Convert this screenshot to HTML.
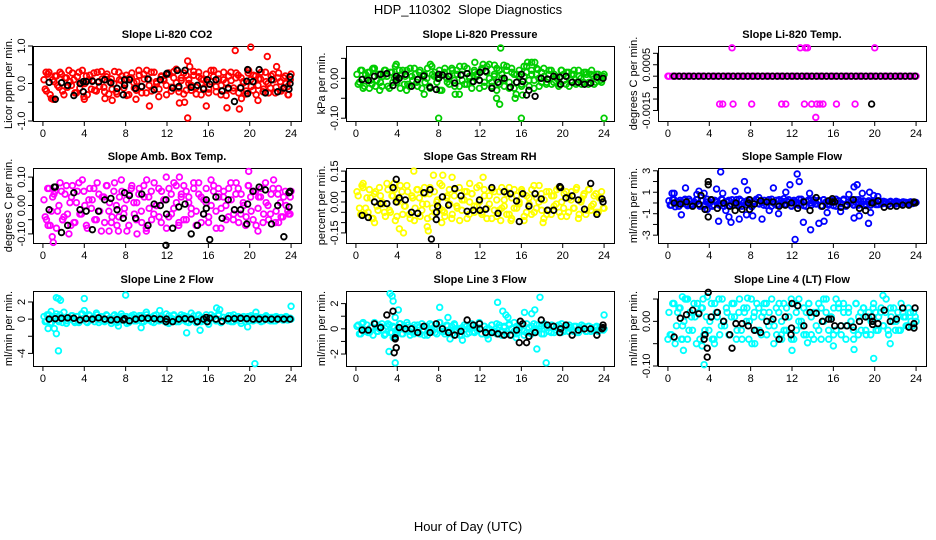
<!DOCTYPE html>
<html><head><meta charset="utf-8"><style>
html,body{margin:0;padding:0;background:#fff}
svg{display:block;font-family:"Liberation Sans",sans-serif}
</style></head><body>
<svg id="chart" width="936" height="540" viewBox="0 0 936 540" xmlns="http://www.w3.org/2000/svg">
<rect x="0" y="0" width="936" height="540" fill="#fff"/>
<text x="468" y="14" font-size="13" text-anchor="middle">HDP_110302&#160; Slope Diagnostics</text>
<text x="468" y="531" font-size="13" text-anchor="middle">Hour of Day (UTC)</text>
</svg>
<script>
const xTicks=[0,4,8,12,16,20,24];
const titles=["Slope Li-820 CO2","Slope Li-820 Pressure","Slope Li-820 Temp.","Slope Amb. Box Temp.","Slope Gas Stream RH","Slope Sample Flow","Slope Line 2 Flow","Slope Line 3 Flow","Slope Line 4 (LT) Flow"];
const yTitles=["Licor ppm per min.","kPa per min.","degrees C per min.","degrees C per min.","percent per min.","ml/min per min.","ml/min per min.","ml/min per min.","ml/min per min."];
const colors=["#ff0000","#00cd00","#ff00ff","#ff00ff","#ffff00","#0000ff","#00ffff","#00ffff","#00ffff"];
const yRanges=[[-1,1],[-0.107,0.081],[-0.00196,0.00132],[-0.132,0.132],[-0.199,0.165],[-3.73,3.26],[-5.47,3.28],[-2.95,3.0],[-0.1,0.068]];
const yTickVals=[[-1,-0.5,0,0.5,1],[-0.1,-0.05,0,0.05],[-0.0015,-0.001,-0.0005,0,0.0005,0.001],[-0.1,-0.05,0,0.05,0.1],[-0.15,-0.1,-0.05,0,0.05,0.1,0.15],[-3,-2,-1,0,1,2,3],[-4,-2,0,2],[-2,-1,0,1,2],[-0.1,-0.05,0,0.05]];
const yTickLabels=[["-1.0","","0.0","","1.0"],["-0.10","","0.00",""],["-0.0015","","","","0.0005",""],["-0.10","","0.00","","0.10"],["-0.15","","","0.00","","","0.15"],["-3","","-1","","1","","3"],["-4","","0","2"],["-2","","0","","2"],["-0.10","","0.00",""]];

// colored main series A (evenly spaced through the day)
const co2Vals=[0.1,-0.2,0.3,-0.4,0.05,0.2,-0.1,0.25,-0.3,0.15,0.35,-0.05,0.1,-0.25,0.3,0.0,-0.35,0.2,0.1,-0.15,0.28,-0.2,0.05,0.32,-0.1,0.18,-0.28,0.12,0.0,-0.22,0.3,0.08,-0.12,0.22,-0.3,0.15,0.02,-0.18,0.35,-0.08,0.25,-0.25,0.1,0.3,-0.15,0.05,-0.35,0.2,0.12,-0.05,0.28,-0.2,0.15,0.38,-0.12,0.08,-0.28,0.22,0.0,-0.18,0.32,-0.1,0.18,-0.3,0.1,0.25,-0.15,0.05,0.35,-0.22,0.12,-0.05,0.3,-0.32,0.2,0.08,-0.12,0.28,-0.25,0.15,0.02,-0.2,0.35,-0.08,0.22,-0.3,0.12,0.3,-0.15,0.05,-0.25,0.2,0.1,-0.1,0.28,-0.2,0.15,0.0,-0.3,0.25];
const presVals=[0.01,-0.01,0.02,-0.02,0.0,0.015,-0.015,0.025,-0.005,0.01,-0.02,0.02,0.005,-0.025,0.015,0.0,-0.01,0.02,0.01,-0.015,0.02,-0.02,0.005,0.025,-0.01,0.015,-0.025,0.01,0.0,-0.02,0.03,0.005,-0.01,0.02,-0.03,0.015,0.0,-0.015,0.025,-0.005,0.02,-0.02,0.01,0.03,-0.015,0.005,-0.025,0.02,0.01,-0.005,0.025,-0.02,0.015,0.035,-0.01,0.005,-0.03,0.02,0.0,-0.02,0.03,-0.01,0.015,-0.025,0.01,0.02,-0.015,0.005,0.03,-0.02,0.01,-0.005,0.025,-0.02,0.015,0.005,-0.01,0.02,-0.015,0.01,0.0,-0.015,0.02,-0.005,0.015,-0.02,0.01,0.02,-0.01,0.005,-0.015,0.015,0.01,-0.01,0.02,-0.015,0.01,0.0,-0.01,0.01];
const tempVals=[0,0,0,0,0,0,0,0,0,0,0,0,0,0,0,0,0,0,0,0,0,0,0,0,0,0,0,0,0,0,0,0,0,0,0,0,0,0,0,0,0,0,0,0,0,0,0,0,0,0,0,0,0,0,0,0,0,0,0,0,0,0,0,0,0,0,0,0,0,0];
const ambVals=[0.02,-0.05,0.06,-0.02,0.04,-0.08,0.0,0.05,-0.04,0.07,-0.1,0.03,-0.06,0.01,0.08,-0.03,0.05,-0.07,0.02,-0.01,0.06,-0.05,0.04,-0.09,0.03,0.07,-0.02,-0.06,0.05,0.0,-0.04,0.09,-0.03,0.02,-0.07,0.06,0.01,-0.05,0.04,-0.02,0.07,-0.08,0.03,0.05,-0.03,0.0,0.06,-0.06,0.02,0.1,-0.04,0.04,-0.01,0.07,-0.07,0.03,-0.05,0.05,0.01,-0.03,0.08,-0.02,0.04,-0.06,0.02,0.06,-0.04,0.0,0.07,-0.08,0.03,-0.01,0.05,-0.05,0.06,0.02,-0.03,0.08,-0.06,0.04,0.0,-0.04,0.07,-0.02,0.05,-0.07,0.03,0.06,-0.03,0.01,-0.05,0.04,0.09,-0.02,0.06,-0.04,0.03,0.0,-0.03,0.05];
const rhVals=[0.05,-0.03,0.08,-0.06,0.02,0.06,-0.08,0.04,-0.02,0.07,0.0,-0.05,0.09,-0.04,0.03,0.06,-0.07,0.01,0.05,-0.02,0.08,-0.06,0.03,-0.09,0.06,0.02,-0.04,0.07,-0.01,0.04,-0.07,0.05,0.0,-0.03,0.08,-0.05,0.02,0.06,-0.08,0.03,-0.02,0.07,-0.04,0.01,0.05,-0.06,0.04,-0.02,0.07,0.0,-0.05,0.06,-0.03,0.03,-0.08,0.05,0.01,-0.04,0.07,-0.02,0.04,-0.06,0.02,0.06,-0.03,0.0,0.05,-0.07,0.03,-0.01,0.06,-0.05,0.02,0.08,-0.04,0.01,-0.06,0.05,0.03,-0.02,0.06,-0.05,0.0,0.04,-0.07,0.02,0.05,-0.03,0.07,-0.06,0.01,0.04,-0.04,0.06,-0.02,0.03,-0.05,0.02,0.05,-0.03];
const sampleVals=[0.2,-0.2,0.3,0.0,-0.3,0.1,0.25,-0.1,0.35,-0.25,0.05,0.3,-0.15,0.2,-0.3,0.1,0.0,0.3,-0.2,0.15,-0.05,0.35,-0.3,0.1,0.25,-0.1,0.0,0.3,-0.25,0.2,0.05,-0.15,0.3,-0.3,0.15,0.35,-0.05,0.2,-0.2,0.1,0.3,-0.3,0.0,0.25,-0.15,0.2,0.4,-0.1,0.3,-0.25,0.1,0.05,-0.2,0.35,0.15,-0.3,0.2,0.0,0.3,-0.1,0.15,-0.25,0.3,0.05,-0.2,0.25,0.1,-0.3,0.2,-0.05,0.35,-0.15,0.1,0.25,-0.2,0.05,0.3,-0.1,0.15,-0.25,0.2,0.0,0.1,-0.15,0.2,-0.1,0.15,0.05,-0.1,0.1,-0.05,0.15,0.0,-0.1,0.1,0.05,-0.05,0.1,0.0,0.05];
const line2Vals=[0.3,-0.2,0.5,-0.4,0.1,0.6,-0.3,0.2,0.8,-0.5,0.0,0.4,-0.2,0.3,-0.4,0.6,0.1,-0.3,0.5,-0.1,0.2,0.7,-0.4,0.3,-0.2,0.5,0.0,-0.5,0.4,0.2,-0.3,0.6,-0.1,0.3,-0.4,0.2,0.5,-0.2,0.1,0.4,-0.3,0.8,-0.1,0.2,-0.4,0.5,0.0,0.3,-0.2,0.6,-0.5,0.1,0.4,-0.3,0.2,0.5,-0.1,0.3,-0.4,0.7,0.0,-0.2,0.4,-0.3,0.2,0.5,-0.6,0.1,0.3,-0.2,0.6,-0.4,0.2,0.0,0.4,-0.3,0.5,-0.1,0.2,-0.5,0.3,0.1,-0.2,0.4,-0.1,0.3,0.0,-0.3,0.2,0.4,-0.1,0.2,-0.2,0.3,0.0,0.2,-0.1,0.3,0.1,0.0];
const line3Vals=[0.2,-0.4,0.4,-0.1,0.3,-0.3,0.1,0.5,-0.2,0.0,0.4,-0.5,0.2,0.3,-0.3,0.1,-0.1,0.4,-0.4,0.2,0.5,-0.2,0.0,0.3,-0.3,0.1,0.4,-0.5,0.2,-0.1,0.3,0.0,-0.4,0.5,0.1,-0.2,0.3,-0.3,0.2,0.4,-0.1,0.0,-0.5,0.3,0.2,-0.3,0.4,-0.2,0.1,0.5,-0.4,0.2,0.0,-0.1,0.3,-0.3,0.4,0.1,-0.5,0.2,-0.2,0.3,0.0,0.5,-0.4,0.1,0.3,-0.2,0.4,-0.3,0.2,-0.1,0.3,0.0,-0.4,0.4,0.1,-0.2,0.3,-0.3,0.2,0.0,0.4,-0.2,0.1,0.3,-0.1,0.2,-0.3,0.1,0.3,0.0,-0.2,0.2,0.1,-0.1,0.2,0.0,0.1,0.0];
const line4Vals=[0.02,-0.03,0.04,-0.01,0.03,-0.04,0.0,0.05,-0.02,0.01,0.04,-0.05,0.02,0.03,-0.03,0.01,-0.02,0.04,-0.04,0.02,0.05,-0.01,0.0,0.03,-0.03,0.01,0.04,-0.04,0.02,-0.02,0.03,0.0,-0.04,0.05,0.01,-0.02,0.03,-0.03,0.02,0.04,-0.01,0.0,-0.05,0.03,0.02,-0.03,0.04,-0.02,0.01,0.05,-0.04,0.02,0.0,-0.01,0.03,-0.03,0.04,0.01,-0.04,0.02,-0.02,0.03,0.0,0.05,-0.04,0.01,0.03,-0.02,0.04,-0.03,0.02,-0.01,0.03,0.0,-0.04,0.04,0.01,-0.02,0.03,-0.03,0.02,0.0,0.04,-0.02,0.01,0.03,-0.01,0.05,-0.03,0.01,0.03,0.0,-0.02,0.04,0.01,-0.01,0.03,0.0,0.02,0.0];

// colored main series B (interleaved readings)
const co2ValsB=[-0.15,0.25,-0.3,0.1,0.2,-0.05,0.3,-0.2,0.15,-0.1,0.05,0.28,-0.25,0.18,-0.12,0.35,0.0,-0.3,0.22,0.08,-0.18,0.3,-0.08,0.12,-0.22,0.25,0.05,-0.15,0.32,-0.28,0.1,0.2,-0.02,-0.32,0.15,0.28,-0.12,0.05,0.22,-0.25,0.12,0.35,-0.05,-0.2,0.3,0.0,-0.15,0.18,0.08,-0.3,0.25,-0.1,0.32,0.02,-0.22,0.15,0.28,-0.18,0.1,-0.05,0.22,-0.28,0.3,0.12,-0.12,0.05,-0.25,0.35,0.18,-0.08,0.25,-0.3,0.1,0.02,-0.15,0.3,-0.2,0.15,0.22,-0.1,0.05,-0.28,0.28,0.1,-0.18,0.2,-0.05,0.12,-0.22,0.3,0.0,-0.12,0.25,-0.25,0.15,0.05,-0.15,0.2,-0.08,0.1];
const presValsB=[-0.015,0.02,-0.025,0.01,0.015,-0.005,0.025,-0.02,0.01,-0.01,0.005,0.02,-0.02,0.015,-0.01,0.03,0.0,-0.025,0.02,0.005,-0.015,0.025,-0.005,0.01,-0.02,0.02,0.005,-0.01,0.025,-0.025,0.01,0.015,0.0,-0.03,0.01,0.025,-0.01,0.005,0.02,-0.02,0.01,0.03,-0.005,-0.015,0.025,0.0,-0.01,0.015,0.005,-0.025,0.02,-0.01,0.03,0.0,-0.02,0.01,0.025,-0.015,0.01,-0.005,0.02,-0.025,0.025,0.01,-0.01,0.005,-0.02,0.03,0.015,-0.005,0.02,-0.025,0.01,0.0,-0.01,0.025,-0.015,0.01,0.02,-0.01,0.005,-0.02,0.02,0.01,-0.015,0.015,-0.005,0.01,-0.015,0.02,0.0,-0.01,0.015,-0.015,0.01,0.005,-0.01,0.01,-0.005,0.005];
const tempValsB=[];
const ambValsB=[-0.04,0.06,-0.07,0.03,0.05,-0.02,0.08,-0.05,0.04,-0.03,0.01,0.07,-0.06,0.05,-0.03,0.09,0.0,-0.08,0.06,0.02,-0.05,0.08,-0.02,0.03,-0.06,0.07,0.01,-0.04,0.08,-0.07,0.03,0.05,-0.01,-0.09,0.04,0.07,-0.03,0.01,0.06,-0.06,0.03,0.09,-0.01,-0.05,0.08,0.0,-0.04,0.05,0.02,-0.08,0.06,-0.03,0.08,0.01,-0.06,0.04,0.07,-0.05,0.03,-0.01,0.06,-0.07,0.08,0.03,-0.03,0.01,-0.06,0.09,0.05,-0.02,0.06,-0.08,0.03,0.0,-0.04,0.08,-0.05,0.04,0.06,-0.03,0.01,-0.07,0.07,0.03,-0.05,0.05,-0.01,0.03,-0.06,0.08,0.0,-0.03,0.06,-0.06,0.04,0.01,-0.04,0.05,-0.02,0.03];
const rhValsB=[0.03,-0.06,0.07,-0.03,-0.05,0.02,-0.08,0.05,-0.04,0.03,-0.01,-0.07,0.06,-0.05,0.03,-0.09,0.0,0.08,-0.06,-0.02,0.05,-0.08,0.02,-0.03,0.06,-0.07,-0.01,0.04,-0.08,0.07,-0.03,-0.05,0.01,0.09,-0.04,-0.07,0.03,-0.01,-0.06,0.06,-0.03,-0.09,0.01,0.05,-0.08,0.0,0.04,-0.05,-0.02,0.08,-0.06,0.03,-0.08,-0.01,0.06,-0.04,-0.07,0.05,-0.03,0.01,-0.06,0.07,-0.08,-0.03,0.03,-0.01,0.06,-0.09,-0.05,0.02,-0.06,0.08,-0.03,0.0,0.04,-0.08,0.05,-0.04,-0.06,0.03,-0.01,0.07,-0.07,-0.03,0.05,-0.05,0.01,-0.03,0.06,-0.08,0.0,0.03,-0.06,0.06,-0.04,-0.01,0.04,-0.05,0.02,-0.03];
const sampleValsB=[-0.2,0.3,-0.35,0.1,0.25,-0.05,0.35,-0.25,0.15,-0.1,0.05,0.3,-0.3,0.2,-0.15,0.35,0.0,-0.3,0.25,0.1,-0.2,0.3,-0.05,0.15,-0.25,0.3,0.05,-0.15,0.35,-0.3,0.1,0.2,0.0,-0.35,0.15,0.3,-0.1,0.05,0.25,-0.25,0.1,0.35,-0.05,-0.2,0.3,0.0,-0.15,0.2,0.1,-0.3,0.25,-0.1,0.35,0.0,-0.25,0.15,0.3,-0.2,0.1,-0.05,0.25,-0.3,0.3,0.1,-0.1,0.05,-0.25,0.35,0.2,-0.05,0.25,-0.3,0.1,0.0,-0.15,0.3,-0.2,0.15,0.2,-0.1,0.05,-0.2,0.2,0.1,-0.15,0.15,-0.05,0.1,-0.15,0.15,0.0,-0.1,0.1,-0.1,0.1,0.05,-0.05,0.1,-0.05,0.05];
const line2ValsB=[-0.3,0.4,-0.5,0.2,0.3,-0.1,0.5,-0.4,0.2,-0.2,0.1,0.4,-0.4,0.3,-0.2,0.6,0.0,-0.4,0.4,0.1,-0.3,0.5,-0.1,0.2,-0.3,0.4,0.1,-0.2,0.5,-0.4,0.2,0.3,0.0,-0.5,0.2,0.4,-0.2,0.1,0.4,-0.3,0.2,0.5,-0.1,-0.3,0.4,0.0,-0.2,0.3,0.1,-0.4,0.4,-0.2,0.5,0.0,-0.3,0.2,0.4,-0.3,0.2,-0.1,0.4,-0.4,0.5,0.2,-0.2,0.1,-0.3,0.5,0.3,-0.1,0.4,-0.4,0.2,0.0,-0.2,0.4,-0.3,0.2,0.3,-0.2,0.1,-0.3,0.3,0.2,-0.2,0.2,-0.1,0.2,-0.2,0.3,0.0,-0.2,0.2,-0.2,0.2,0.1,-0.1,0.2,-0.1,0.1];
const line3ValsB=[0.3,-0.4,0.5,-0.2,-0.3,0.1,-0.5,0.4,-0.2,0.2,-0.1,-0.4,0.4,-0.3,0.2,-0.5,0.0,0.4,-0.4,-0.1,0.3,-0.5,0.1,-0.2,0.3,-0.4,-0.1,0.2,-0.5,0.4,-0.2,-0.3,0.0,0.5,-0.2,-0.4,0.2,-0.1,-0.4,0.3,-0.2,-0.5,0.1,0.3,-0.4,0.0,0.2,-0.3,-0.1,0.4,-0.4,0.2,-0.5,0.0,0.3,-0.2,-0.4,0.3,-0.2,0.1,-0.4,0.4,-0.5,-0.2,0.2,-0.1,0.3,-0.5,-0.3,0.1,-0.4,0.4,-0.2,0.0,0.2,-0.4,0.3,-0.2,-0.3,0.2,-0.1,0.3,-0.3,-0.2,0.2,-0.2,0.1,-0.2,0.2,-0.3,0.0,0.2,-0.2,0.2,-0.2,-0.1,0.1,-0.2,0.1,-0.1];
const line4ValsB=[-0.03,0.04,-0.05,0.02,0.03,-0.01,0.05,-0.04,0.02,-0.02,0.01,0.04,-0.04,0.03,-0.02,0.055,0.0,-0.04,0.04,0.01,-0.03,0.05,-0.01,0.02,-0.03,0.04,0.01,-0.02,0.05,-0.04,0.02,0.03,0.0,-0.05,0.02,0.04,-0.02,0.01,0.04,-0.03,0.02,0.05,-0.01,-0.03,0.04,0.0,-0.02,0.03,0.01,-0.04,0.04,-0.02,0.05,0.0,-0.03,0.02,0.04,-0.03,0.02,-0.01,0.04,-0.04,0.05,0.02,-0.02,0.01,-0.03,0.05,0.03,-0.01,0.04,-0.04,0.02,0.0,-0.02,0.04,-0.03,0.02,0.03,-0.02,0.01,-0.03,0.03,0.02,-0.02,0.02,-0.01,0.02,-0.02,0.03,0.0,-0.02,0.02,-0.02,0.02,0.01,-0.01,0.02,-0.01,0.01];

// colored outliers [hour, value]
const co2Out=[[14,-0.92],[13.7,-0.5],[14,0.6],[14.2,0.45],[18.6,0.88],[20.1,0.97],[21.7,0.72],[22.6,0.45],[19,-0.68],[17.8,-0.65],[15.8,-0.6],[10.3,-0.6],[13.2,-0.52],[1,-0.42],[0.3,0.3],[4,-0.42],[6,-0.4],[6.7,-0.45],[9,-0.42],[19.2,-0.4],[20.8,-0.45],[23.7,-0.3]];
const presOut=[[8,-0.1],[16,-0.1],[24,-0.1],[14,0.076],[13.9,-0.065],[11.5,0.04],[12.3,0.035],[13.4,0.033],[14.3,0.033],[16.6,0.04],[17,0.04],[17.3,0.04],[15.5,-0.04],[15.4,-0.05],[13.6,-0.05],[16.1,-0.042],[9.6,-0.04],[10,-0.04],[7.2,0.035],[3.9,0.035],[1.6,0.023],[6.6,-0.04],[17.6,0.022],[1.3,-0.025],[2.3,-0.03],[4.9,-0.03]];
const tempOut=[[0,0],[6.2,0.00124],[12.8,0.00124],[13.3,0.00124],[13.5,0.00124],[20,0.00124],[5,-0.00122],[5.3,-0.00122],[6.3,-0.00122],[8.1,-0.00122],[11,-0.00122],[11.4,-0.00122],[13.2,-0.00122],[13.9,-0.00122],[14.4,-0.00122],[14.7,-0.00122],[15,-0.00122],[16.3,-0.00122],[18.1,-0.00122],[14.3,-0.0018]];
const ambOut=[[1,-0.13],[0.9,-0.11],[0.5,-0.07],[19.9,0.12],[13.2,0.1],[6.4,-0.09],[7.3,-0.09],[9.1,-0.1],[10,-0.09],[20.8,-0.09],[22.8,-0.06],[23.9,-0.03],[1.9,-0.05],[2.7,-0.07]];
const rhOut=[[5.6,0.15],[7.5,0.13],[8.4,0.13],[9.3,0.12],[12.3,0.12],[6.9,-0.12],[4.2,-0.13],[4.6,-0.15],[8.3,-0.1],[7,-0.14],[1.8,-0.1],[18.1,-0.1],[0.7,0.09],[3.7,0.09],[11,0.09],[14,-0.09],[15,-0.09]];
const sampleOut=[[0.4,0.9],[0.6,0.9],[1.3,-1.1],[1.7,1.4],[3,1.1],[3.5,0.9],[3.8,-0.6],[4.7,1.3],[5.1,2.9],[4.9,-1.7],[5.3,0.9],[5.6,-0.7],[5.9,-1.3],[6.1,-1.8],[6.5,1.1],[6.9,-1.5],[7.4,2.0],[7.7,1.2],[7.6,-1.1],[8.2,-1.2],[9.1,-1.5],[9.8,-0.7],[10.2,1.4],[10.7,-1.0],[11.4,1.0],[11.8,1.7],[12.3,-3.4],[12.5,2.7],[12.7,2.0],[13.1,-1.8],[13.8,-2.5],[13.7,0.9],[14.6,-1.9],[15.1,-1.7],[15.4,-0.9],[16.7,-0.8],[17.5,0.8],[18,1.5],[18.3,1.7],[18,-1.4],[18.5,-1.2],[18.8,0.9],[19.4,-1.9],[19.6,-0.9],[19.5,1.0],[19.9,0.7],[20.3,0.6],[8.8,0.5],[2.8,0.8]];
const line2Out=[[1.3,2.5],[1.5,2.4],[1.7,2.2],[4,2.4],[8,2.8],[1.5,-3.7],[1.3,-1.7],[1.1,-1.1],[0.5,-1.1],[4,1.0],[13.9,-1.6],[15.2,-1.3],[20.5,-5.2],[24,1.5],[16.8,1.3],[17.1,1.1],[11.3,1.0],[9.5,-1.0],[19.8,-0.9],[7.3,-0.8],[20.6,0.8],[0.8,0.9],[0.4,0.5]];
const line3Out=[[3.3,2.8],[3.5,2.6],[3.6,2.2],[4.1,1.5],[3.8,0.9],[3.2,-1.8],[3.8,-2.7],[3.6,-0.7],[8.1,1.7],[8.9,0.9],[10.3,-0.9],[9.1,-0.8],[13.7,2.1],[14.2,1.4],[14.5,1.1],[14.7,0.9],[16.3,1.3],[17,1.2],[17.3,1.5],[17.8,2.5],[17.5,-1.6],[18.4,-2.7],[24,1.1],[15.5,-0.7],[12.8,-0.8],[5.6,-0.4]];
const line4Out=[[1.4,0.055],[1.9,0.05],[3.4,0.05],[7.7,0.052],[20.8,0.058],[19.9,-0.083],[3.5,-0.097],[1.5,-0.065],[12,-0.065],[16,-0.055],[18,-0.063],[21.5,-0.05],[0,-0.04],[1.4,-0.04],[3.3,-0.055],[8.4,-0.05],[11,-0.04],[13.5,-0.048],[4.5,-0.05]];

// black series (evenly spaced 0.6h..23.9h)
const co2Blk=[0.03,-0.42,0.02,-0.05,-0.32,0.0,0.05,0.06,0.04,0.1,0.02,-0.13,-0.3,0.1,-0.13,-0.08,0.12,-0.17,0.1,0.25,-0.12,-0.08,0.35,-0.1,-0.05,-0.15,-0.02,0.1,-0.2,-0.12,-0.48,-0.12,0.06,0.05,0.37,-0.25,0.1,-0.22,-0.12,0.0];
const presBlk=[-0.003,-0.005,0.005,0.01,0.012,-0.018,0.0,0.01,-0.02,-0.003,0.006,-0.023,-0.028,0.008,0.005,-0.012,0.008,0.012,-0.008,-0.005,0.018,-0.025,-0.01,0.0,-0.022,-0.01,-0.008,-0.03,-0.045,0.0,-0.002,0.005,0.003,0.005,-0.01,-0.01,-0.015,-0.012,0.003,0.0];
const tempBlk=[0,0,0,0,0,0,0,0,0,0,0,0,0,0,0,0,0,0,0,0,0,0,0,0,0,0,0,0,0,0,0,0,0,0,0,0,0,0,0,0,0,0,0,0,0,0,0,0,0,0];
const ambBlk=[-0.015,0.065,-0.095,-0.07,0.045,-0.015,-0.02,-0.085,-0.02,0.02,0.025,-0.015,-0.045,0.035,-0.045,0.04,-0.07,0.005,0.0,-0.03,-0.08,-0.005,0.005,-0.1,-0.07,-0.03,-0.12,0.03,-0.045,0.02,-0.015,-0.015,-0.065,0.05,0.065,0.055,-0.065,0.0,-0.11,0.05];
const rhBlk=[-0.065,-0.075,0.0,-0.008,-0.008,0.07,0.02,0.01,-0.05,-0.055,0.045,0.06,-0.085,0.025,-0.015,0.065,0.03,-0.045,-0.04,0.01,-0.035,0.07,-0.055,0.05,0.04,0.005,0.04,-0.02,0.04,0.015,-0.04,-0.04,0.075,0.02,0.03,0.01,-0.035,0.09,-0.06,0.0];
const sampleBlk=[0.0,-0.1,0.1,-0.3,-0.1,-0.6,0.3,-0.5,0.0,-0.3,0.0,-0.6,0.0,-0.1,0.2,0.1,0.1,-0.3,-0.2,0.0,-0.5,0.1,-0.7,0.5,-0.3,0.2,0.1,-0.4,-0.2,0.3,-0.5,-0.7,0.0,0.2,-0.4,-0.3,-0.3,-0.2,-0.2,0.0];
const line2Blk=[0.0,0.05,0.1,0.15,0.1,-0.1,0.05,0.0,0.15,0.0,-0.1,-0.05,-0.1,-0.2,0.0,0.1,0.1,0.05,0.0,0.0,-0.3,0.0,0.05,0.0,-0.3,0.0,0.1,0.0,-0.25,0.05,0.05,0.1,0.05,0.0,0.0,0.0,0.0,0.0,0.0,0.0];
const line3Blk=[-0.1,-0.1,0.4,0.1,1.1,1.4,0.1,0.0,0.0,-0.3,0.2,-0.3,0.4,0.0,-0.3,-0.5,-0.2,0.7,0.3,0.4,-0.3,-0.3,-0.4,-0.5,-0.5,-0.1,0.4,-0.6,-0.3,0.7,0.3,0.2,-0.3,0.3,-0.5,-0.1,0.0,0.0,-0.5,0.3];
const line4Blk=[-0.035,0.007,0.015,0.025,0.017,-0.03,0.01,0.02,0.0,-0.03,-0.005,-0.005,-0.01,-0.02,-0.025,0.0,0.005,-0.04,0.01,-0.015,0.035,-0.01,0.02,0.018,0.0,0.005,-0.01,-0.01,-0.01,-0.013,0.0,0.01,0.01,-0.005,0.025,0.0,0.005,0.03,-0.013,0.03];

// black extra points [hour, value]
const co2BlkOut=[[3.9,-0.22],[3.9,0.05],[7.9,0.1],[7.9,-0.05],[12,0.27],[13,0.35],[15.9,0.1],[19.8,-0.27],[19.8,0.37],[23.8,-0.15],[23.9,0.18]];
const presBlkOut=[[3.9,0.005],[3.9,-0.005],[8,0.01],[8,0.0],[12,0.015],[16,0.01],[16.5,-0.042],[19.8,-0.015]];
const tempBlkOut=[[19.7,-0.00122]];
const ambBlkOut=[[1.1,0.065],[7.9,0.045],[11.9,0.02],[11.9,-0.14],[15.8,-0.01],[15.8,0.02],[19.8,0.005],[23.8,0.045],[23.8,-0.005]];
const rhBlkOut=[[3.9,0.11],[3.9,0.0],[7.3,-0.18],[7.9,-0.02],[7.8,-0.05],[15.8,-0.095],[12,-0.04],[19.8,0.07],[23.8,0.015]];
const sampleBlkOut=[[3.9,2.0],[3.9,1.7],[3.9,-1.3],[3.2,0.7],[6.5,-0.7],[7.9,0.3],[7.9,-0.6],[15.9,0.4],[15.9,0.1],[19.8,0.0],[23.8,0.1]];
const line2BlkOut=[[11.9,-0.3],[15.9,-0.3],[15.8,0.2],[7.9,0.05]];
const line3BlkOut=[[3.8,-0.7],[3.8,-0.8],[3.9,-1.5],[3.7,-1.9],[12,0.0],[15.8,-1.1],[16.5,-1.1],[15.9,0.6],[19.8,0.0],[23.8,0.0],[23.9,0.1]];
const line4BlkOut=[[3.8,-0.06],[3.8,-0.08],[3.9,0.065],[3.5,-0.04],[6.2,-0.06],[12,0.04],[11.9,-0.03],[15.8,0.005],[19.8,0.0],[19.8,-0.007],[23.8,-0.005],[23.8,-0.015]];

const mainSeries=[co2Vals,presVals,tempVals,ambVals,rhVals,sampleVals,line2Vals,line3Vals,line4Vals];
const mainSeriesB=[co2ValsB,presValsB,tempValsB,ambValsB,rhValsB,sampleValsB,line2ValsB,line3ValsB,line4ValsB];
const outSeries=[co2Out,presOut,tempOut,ambOut,rhOut,sampleOut,line2Out,line3Out,line4Out];
const blkSeries=[co2Blk,presBlk,tempBlk,ambBlk,rhBlk,sampleBlk,line2Blk,line3Blk,line4Blk];
const blkOutSeries=[co2BlkOut,presBlkOut,tempBlkOut,ambBlkOut,rhBlkOut,sampleBlkOut,line2BlkOut,line3BlkOut,line4BlkOut];

const NS="http://www.w3.org/2000/svg";
const svg=document.getElementById('chart');
const colLefts=[33,346,658], rowTops=[46,168,291], PW=268, PH=75;
function mk(tag,attrs,parent){const e=document.createElementNS(NS,tag);for(const k in attrs)e.setAttribute(k,attrs[k]);parent.appendChild(e);return e;}

for(let p=0;p<9;p++){
  const L=colLefts[p%3], T=rowTops[Math.floor(p/3)];
  const [y0,y1]=yRanges[p];
  const xs=h=>L+(h+0.96)/25.92*PW;
  const ys=v=>T+PH-(v-y0)/(y1-y0)*PH;
  const g=mk('g',{},svg);
  
  
  const t=mk('text',{x:L+PW/2,y:T-8,'font-size':11,'font-weight':'bold','text-anchor':'middle'},g);
  t.textContent=titles[p];
  
  
  const yt=mk('text',{transform:`translate(${L-21},${T+PH/2}) rotate(-90)`,'font-size':11,'text-anchor':'middle'},g);
  yt.textContent=yTitles[p];
  
  
  const xa=mk('g',{},g);
  
  
  mk('line',{x1:xs(0),x2:xs(24),y1:T+PH+0.5,y2:T+PH+0.5,stroke:'#000'},xa);
  xTicks.forEach(h=>{
    mk('line',{x1:xs(h),x2:xs(h),y1:T+PH,y2:T+PH+5,stroke:'#000'},xa);
    const lt=mk('text',{x:xs(h),y:T+PH+16,'font-size':11,'text-anchor':'middle'},xa);
    lt.textContent=h;
    
    
  });
  const ya=mk('g',{},g);
  
  
  const tv=yTickVals[p];
  mk('line',{x1:L-0.5,x2:L-0.5,y1:ys(tv[0]),y2:ys(tv[tv.length-1]),stroke:'#000'},ya);
  tv.forEach((v,i)=>{
    mk('line',{x1:L-5,x2:L,y1:ys(v),y2:ys(v),stroke:'#000'},ya);
    if(yTickLabels[p][i]){
      const lt=mk('text',{transform:`translate(${L-8},${ys(v)}) rotate(-90)`,'font-size':11,'text-anchor':'middle'},ya);
      lt.textContent=yTickLabels[p][i];
      
      
    }
  });
  const box=mk('rect',{x:L+0.5,y:T+0.5,width:PW,height:PH,fill:'none',stroke:'#000'},g);
  
  
  const cg=mk('g',{fill:'none',stroke:colors[p],'stroke-width':1.8},g);
  
  
  const mv=mainSeries[p], n=mv.length;
  mv.forEach((v,i)=>{
    const c=mk('circle',{cx:xs(0.1+i*23.9/(n-1)),cy:ys(v),r:2.8},cg);
    
    
  });
  const mb=mainSeriesB[p], nb=mb.length;
  mb.forEach((v,i)=>{
    const c=mk('circle',{cx:xs(0.22+i*23.7/(nb-1)),cy:ys(v),r:2.8},cg);
    
    
  });
  outSeries[p].forEach(([h,v])=>{
    const c=mk('circle',{cx:xs(h),cy:ys(v),r:2.8},cg);
    
    
  });
  const bg=mk('g',{fill:'none',stroke:'#000','stroke-width':1.8},g);
  
  
  const bv=blkSeries[p], m=bv.length;
  bv.forEach((v,i)=>{
    const c=mk('circle',{cx:xs(0.6+i*23.3/(m-1)),cy:ys(v),r:2.8},bg);
    
    
  });
  blkOutSeries[p].forEach(([h,v])=>{
    const c=mk('circle',{cx:xs(h),cy:ys(v),r:2.8},bg);
    
    
  });
}
</script>
</body></html>
